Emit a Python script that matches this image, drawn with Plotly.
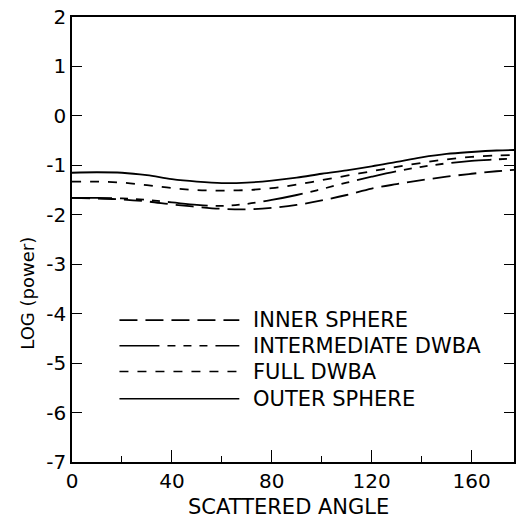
import plotly.graph_objects as go

angles = [0, 10, 20, 30, 40, 50, 60, 70, 80, 90, 100, 110, 120, 130, 140, 150, 160, 170, 177]
outer_sphere = [-1.15, -1.14, -1.15, -1.20, -1.28, -1.33, -1.36, -1.35, -1.31, -1.25, -1.17, -1.10, -1.02, -0.93, -0.84, -0.77, -0.73, -0.70, -0.69]
full_dwba = [-1.33, -1.33, -1.35, -1.40, -1.46, -1.50, -1.51, -1.50, -1.46, -1.39, -1.30, -1.21, -1.12, -1.03, -0.95, -0.88, -0.83, -0.80, -0.79]
intermediate_dwba = [-1.66, -1.66, -1.67, -1.70, -1.75, -1.80, -1.82, -1.78, -1.70, -1.60, -1.48, -1.35, -1.23, -1.12, -1.03, -0.96, -0.91, -0.88, -0.86]
inner_sphere = [-1.66, -1.67, -1.69, -1.73, -1.79, -1.84, -1.88, -1.89, -1.86, -1.80, -1.71, -1.60, -1.47, -1.38, -1.30, -1.23, -1.17, -1.12, -1.09]

series_names = ["INNER SPHERE", "INTERMEDIATE DWBA", "FULL DWBA", "OUTER SPHERE"]
series_values = [inner_sphere, intermediate_dwba, full_dwba, outer_sphere]
dashes = ["18px,8px", "40px,8px,8px,8px,8px,8px,8px,8px", "9px,9px", "solid"]

x_ticks = [0, 40, 80, 120, 160]
x_minor = [20, 60, 100, 140]
y_ticks = [2, 1, 0, -1, -2, -3, -4, -5, -6, -7]

FONT = "DejaVu Sans"
fig = go.Figure()
for name, vals, d in zip(series_names, series_values, dashes):
    fig.add_trace(go.Scatter(x=angles, y=vals, mode="lines", name=name,
                             line=dict(color="black", width=1.8, dash=d, shape="spline"),
                             showlegend=False))

# manual legend with long line samples
legend_y = [-4.13, -4.65, -5.17, -5.72]
for name, d, ly in zip(series_names, dashes, legend_y):
    fig.add_shape(type="line", xref="x", yref="y", x0=19, x1=67, y0=ly, y1=ly,
                  line=dict(color="black", width=1.6, dash=d))
    fig.add_annotation(x=71.5, y=ly, xref="x", yref="y", text=name, showarrow=False,
                       xanchor="left", yanchor="middle", font=dict(family=FONT, size=21, color="black"))

fig.add_annotation(x=0.49, y=-0.1, xref="paper", yref="paper", text="SCATTERED ANGLE",
                   showarrow=False, xanchor="center", yanchor="middle",
                   font=dict(family=FONT, size=21, color="black"))
fig.add_annotation(x=-0.1, y=0.38, xref="paper", yref="paper", text="LOG (power)",
                   showarrow=False, textangle=-90, xanchor="center", yanchor="middle",
                   font=dict(family=FONT, size=18, color="black"))

fig.update_layout(
    width=521, height=520,
    margin=dict(l=72, r=5, t=14, b=58),
    paper_bgcolor="white", plot_bgcolor="white",
    font=dict(family=FONT, size=20, color="black"),
    xaxis=dict(range=[0, 177], tickvals=x_ticks, ticktext=[str(v) for v in x_ticks],
               ticks="inside", ticklen=12, tickcolor="black",
               minor=dict(tickvals=x_minor, ticks="inside", ticklen=6, tickcolor="black"),
               showline=True, linecolor="black", linewidth=1.5, mirror=True,
               showgrid=False, zeroline=False),
    yaxis=dict(range=[-7, 2], tickvals=y_ticks, ticktext=[str(v) for v in y_ticks],
               ticks="inside", ticklen=10, tickcolor="black",
               showline=True, linecolor="black", linewidth=1.5, mirror="ticks",
               showgrid=False, zeroline=False),
)

fig.write_html("out.html", config={"displayModeBar": False})

# remove the browser's default page margin so the figure sits at the window origin
with open("out.html", "r", encoding="utf-8") as f:
    html = f.read()
html = html.replace("<head>", "<head><style>html,body{margin:0;padding:0;}</style>", 1)
with open("out.html", "w", encoding="utf-8") as f:
    f.write(html)
